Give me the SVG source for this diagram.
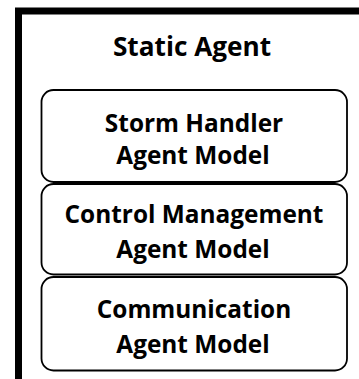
<svg xmlns="http://www.w3.org/2000/svg" width="359" height="379" viewBox="0 0 359 379">
<style>
.frame{fill:none;stroke:#000;stroke-width:7}
.box{fill:#fff;stroke:#000;stroke-width:1.8}
.t{font-family:"Open Sans","Liberation Sans",sans-serif;font-weight:bold;font-size:24.4px;text-anchor:middle;fill:#000}
.h{font-size:26.2px}
</style>
<rect width="359" height="379" fill="#fff"/>
<g id="static-agent">
<path class="frame" d="M18.5 379 V11 H359"/>
<text class="t h" x="192" y="56">Static Agent</text>
</g>
<g id="storm-handler">
<rect class="box" x="41.5" y="90" width="305.5" height="92" rx="12"/>
<text class="t" x="194" y="132">Storm Handler</text>
<text class="t" x="193" y="164">Agent Model</text>
</g>
<g id="control-management">
<rect class="box" x="41.5" y="184" width="305.5" height="90.5" rx="12"/>
<text class="t" x="194" y="223">Control Management</text>
<text class="t" x="193" y="258">Agent Model</text>
</g>
<g id="communication">
<rect class="box" x="41.5" y="277" width="305.5" height="93.5" rx="12"/>
<text class="t" x="194" y="318">Communication</text>
<text class="t" x="193" y="353">Agent Model</text>
</g>
</svg>
